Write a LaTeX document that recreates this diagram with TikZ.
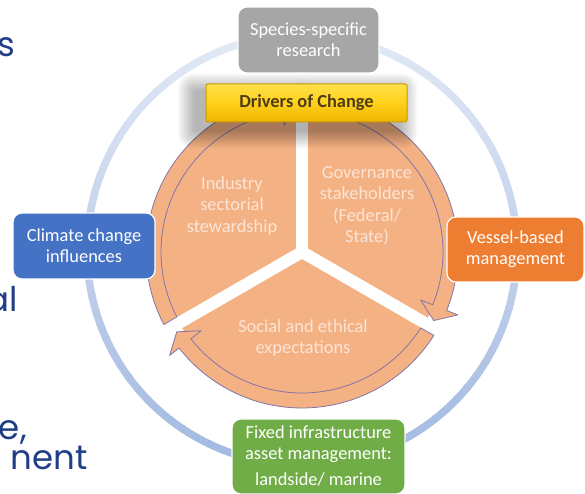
\documentclass[tikz,border=0pt]{standalone}
\usepackage{fontspec}
\setmainfont{Carlito}
\newfontfamily\geofont{Poppins}
\definecolor{segfill}{HTML}{F4B183}
\definecolor{segline}{HTML}{8474A8}
\definecolor{segtext}{HTML}{FCE4D6}
\definecolor{ringblue}{HTML}{9DB5E0}
\definecolor{greybox}{HTML}{A6A6A6}
\definecolor{bluebox}{HTML}{4472C4}
\definecolor{orangebox}{HTML}{ED7D31}
\definecolor{greenbox}{HTML}{70AD47}
\definecolor{slideblue}{HTML}{203E86}
\definecolor{goldline}{HTML}{C89B00}
\definecolor{goldtop}{HTML}{FFE04A}
\definecolor{goldmid}{HTML}{FFD11A}
\definecolor{goldbot}{HTML}{EDB400}
\definecolor{drvtext}{HTML}{503C14}
\begin{document}
\begin{tikzpicture}[x=1pt,y=1pt,
  boxtext/.style={font=\fontsize{18.4}{21}\selectfont, align=center, text=white},
  cardbox/.style={rounded corners=9pt, draw=white, line width=1.2pt, inner sep=0pt},
  segtxt/.style={font=\fontsize{18.4}{21.5}\selectfont, align=center, text=segtext},
  slidetext/.style={font=\geofont\fontsize{34}{40}\selectfont, text=slideblue, anchor=base east, inner sep=0pt},
  segband/.style={fill=segfill},
  segedge/.style={draw=segline, line width=0.8pt, line join=round},
]
\useasboundingbox (0,0) rectangle (585,494);

% clipped slide text on the left
\node[slidetext] (w1) at (15.5,437) {s};
\node[slidetext] (w2) at (18,182) {al};
\node[slidetext] (w3) at (27,54) {e,};
\node[slidetext] (w4) at (88,24) {nent};

% outer ring, lighter towards the top
\foreach \a in {0,4,...,356}{
  \pgfmathsetmacro\p{62-32*sin(\a+2)}
  \draw[line width=7.5pt, color=ringblue!\p!white] (302,244) ++(\a:215)
    arc[start angle=\a, end angle=\a+4.6, radius=215];
}

% segmented cycle
\begin{scope}[shift={(302,242)}]
  \fill[segfill] (0,0) circle[radius=142];
  \foreach \a/\b in {90/-30,-30/-150,-150/-270}{
    \pgfmathsetmacro\ta{\a-2.3}
    \pgfmathsetmacro\tb{\a-2.6}
    \pgfmathsetmacro\hb{\b+8}
    \pgfmathsetmacro\hp{\b+2.5}
    \fill[segband] (\ta:156) arc[start angle=\ta, end angle=\hb, radius=156]
      -- (\hb:168) -- (\hp:148.5) -- (\hb:128) -- (\hb:141)
      arc[start angle=\hb, end angle=\tb, radius=141] -- cycle;
  }
  \foreach \g in {90,210,330}
    \draw[white, line width=12pt] (0,0) -- (\g:178);
  \fill[white] (0,0) circle[radius=6];
  \foreach \a/\b in {90/-30,-30/-150,-150/-270}{
    \pgfmathsetmacro\ta{\a-2.3}
    \pgfmathsetmacro\tb{\a-2.6}
    \pgfmathsetmacro\hb{\b+8}
    \pgfmathsetmacro\hp{\b+2.5}
    \draw[segedge] (\ta:156) arc[start angle=\ta, end angle=\hb, radius=156]
      -- (\hb:168) -- (\hp:148.5) -- (\hb:128) -- (\hb:141)
      arc[start angle=\hb, end angle=\tb, radius=141] -- cycle;
  }
\end{scope}

% segment labels
\node[segtxt] (industry) at (232,288) {Industry\\sectorial\\stewardship};
\node[segtxt] (governance) at (367,288) {Governance\\stakeholders\\(Federal/\\State)};
\node[segtxt] (social) at (303,156) {Social and ethical\\expectations};

% soft shadow of the title bar, cast down and to the left
\foreach \i in {1,...,14}
  \fill[black, opacity=0.022, rounded corners=\i pt]
    (196-1.3*\i,364-1.3*\i) rectangle (399+1.3*\i,402+1.3*\i);

% title bar
\node[draw=goldline, line width=1pt, rounded corners=2pt,
      top color=goldtop, bottom color=goldbot, middle color=goldmid,
      minimum width=201pt, minimum height=38pt, inner sep=0pt,
      font=\bfseries\fontsize{18.4}{21}\selectfont, text=drvtext] (drivers) at (306.5,391) {Drivers of Change};

% surrounding cards
\node[cardbox, fill=greybox, minimum width=141pt, minimum height=66pt, boxtext] (species) at (308.5,454) {Species-specific\\research};
\node[cardbox, fill=bluebox, minimum width=142pt, minimum height=66pt, boxtext] (climate) at (84,248) {Climate change\\influences};
\node[cardbox, fill=orangebox, minimum width=137pt, minimum height=65pt, boxtext] (vessel) at (515.5,244.5) {Vessel-based\\management};
\node[cardbox, fill=greenbox, minimum width=173pt, minimum height=75pt, boxtext] (fixed) at (318.5,37.5) {Fixed infrastructure\\asset management:\\[5pt]landside/ marine};
\end{tikzpicture}
\end{document}
